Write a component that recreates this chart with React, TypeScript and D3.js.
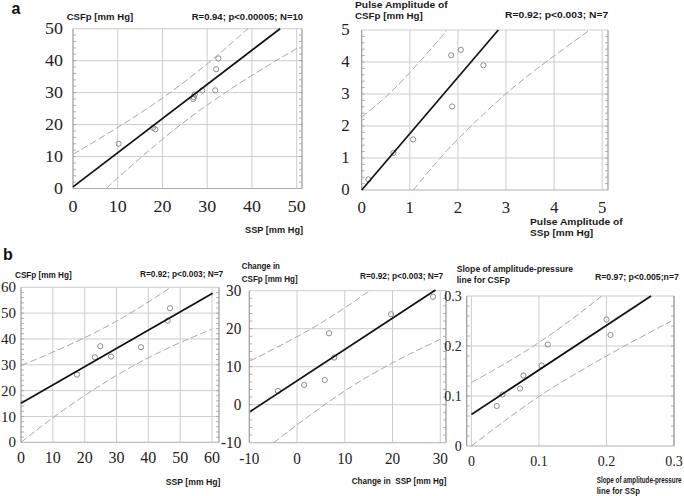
import React from 'react';
import * as d3 from 'd3';

// ---------- data ----------
// Panel a (left): SSP vs CSFp
const a1X = [10.2, 17.9, 18.4, 26.9, 27.0, 27.2, 28.9, 31.8, 32.0, 32.5];
const a1Y = [14.0, 19.0, 18.5, 28.0, 28.6, 29.4, 30.7, 30.7, 37.3, 40.7];
const a1Fit: [number, number][] = [[0, 0.5], [46.3, 50]];
const a1Upper: [number, number][] = [[0, 10.7], [10, 19.1], [20, 28.3], [30, 39.0], [39.1, 50]];
const a1Lower: [number, number][] = [[7.5, 0], [10, 3.3], [20, 15.4], [30, 26.1], [40, 35.4], [50, 43.8]];
const a1XTicks = [0, 10, 20, 30, 40, 50];
const a1YTicks = [0, 10, 20, 30, 40, 50];

// Panel a (right): pulse amplitude
const a2X = [0.14, 0.66, 1.07, 1.86, 1.88, 2.06, 2.53];
const a2Y = [0.33, 1.16, 1.58, 4.21, 2.61, 4.38, 3.90];
const a2Fit: [number, number][] = [[0, 0], [2.84, 5]];
const a2Upper: [number, number][] = [[0, 2.28], [0.5, 2.91], [1, 3.67], [1.5, 4.51], [1.77, 5.0]];
const a2Lower: [number, number][] = [[1.07, 0], [1.5, 0.77], [2, 1.59], [3, 3.01], [4, 4.19], [4.74, 5.0]];
const a2XTicks = [0, 1, 2, 3, 4, 5];
const a2YTicks = [0, 1, 2, 3, 4, 5];

// Panel b (left)
const b1X = [17.6, 23.2, 24.9, 28.3, 37.7, 46.1, 46.8];
const b1Y = [26.2, 32.9, 37.2, 33.2, 36.8, 47.1, 51.9];
const b1Fit: [number, number][] = [[0, 15.1], [60.2, 57.7]];
const b1Upper: [number, number][] = [[0, 29.7], [10, 34.9], [20, 40.5], [30, 46.9], [40, 54.3], [47, 60]];
const b1Lower: [number, number][] = [[0, 0], [10, 9.5], [20, 18.1], [30, 25.9], [40, 32.7], [50, 38.6], [60, 43.8]];
const b1XTicks = [0, 10, 20, 30, 40, 50, 60];
const b1YTicks = [0, 10, 20, 30, 40, 50, 60];

// Panel b (middle)
const b2X = [-4.0, 1.5, 5.8, 6.7, 7.8, 19.7, 28.5];
const b2Y = [3.6, 5.2, 6.5, 18.8, 12.4, 23.8, 28.4];
const b2Fit: [number, number][] = [[-9.8, -1.8], [29, 30.2]];
const b2Upper: [number, number][] = [[-9.8, 11.5], [-5, 14.6], [0, 17.9], [5, 21.5], [10, 25.5], [15.2, 30]];
const b2Lower: [number, number][] = [[-4.9, -10], [0, -5.3], [5, -0.7], [10, 3.65], [15, 7.5], [20, 11.0], [25, 14.2], [30, 17.2]];
const b2XTicks = [-10, 0, 10, 20, 30];
const b2YTicks = [-10, 0, 10, 20, 30];

// Panel b (right)
const b3X = [0.0375, 0.046, 0.072, 0.077, 0.104, 0.113, 0.2, 0.206];
const b3Y = [0.080, 0.103, 0.115, 0.141, 0.161, 0.203, 0.253, 0.222];
const b3Fit: [number, number][] = [[0, 0.063], [0.266, 0.3]];
const b3Upper: [number, number][] = [[0, 0.127], [0.05, 0.165], [0.1, 0.207], [0.15, 0.255], [0.193, 0.3]];
const b3Lower: [number, number][] = [[0, 0], [0.05, 0.051], [0.1, 0.099], [0.15, 0.141], [0.2, 0.18], [0.25, 0.217], [0.296, 0.25]];
const b3XTicks = [0, 0.1, 0.2, 0.3];
const b3YTicks = [0, 0.1, 0.2, 0.3];

// Texts
const a1Texts = ['CSFp [mm Hg]', 'R=0.94; p<0.00005; N=10', 'SSP [mm Hg]'];
const a2Texts = ['Pulse Amplitude of', 'CSFp [mm Hg]', 'R=0.92; p<0.003; N=7', 'Pulse Amplitude of', 'SSp [mm Hg]'];
const b1Texts = ['CSFp [mm Hg]', 'R=0.92; p<0.003; N=7', 'SSP [mm Hg]'];
const b2Texts = ['Change in', 'CSFp [mm Hg]', 'R=0.92; p<0.003; N=7', 'Change in  SSP [mm Hg]'];
const b3Texts = ['Slope of amplitude-pressure', 'line for CSFp', 'R=0.97; p<0.005;n=7', 'Slope of amplitude-pressure', 'line for SSp'];

// ---------- rendering ----------
const GRID = '#cdcdcd';
const FRAME = '#9a9a9a';
const DASH = '#a8a8a8';
const PT = '#8c8c8c';
const SERIF = '"Liberation Serif", "Times New Roman", serif';
const SANS = '"Liberation Sans", Arial, sans-serif';
const LBL_SIZE = 9.5;

let measureCtx: CanvasRenderingContext2D | null = null;
function textWidth(t: string): number {
  if (typeof document !== 'undefined') {
    if (!measureCtx) measureCtx = document.createElement('canvas').getContext('2d');
    if (measureCtx) {
      measureCtx.font = `bold ${LBL_SIZE}px "Liberation Sans", Arial, sans-serif`;
      return measureCtx.measureText(t).width;
    }
  }
  return t.length * LBL_SIZE * 0.58;
}

type PanelCfg = {
  xDom: [number, number]; xRange: [number, number];
  yDom: [number, number]; yRange: [number, number];
  xTicks: number[]; yTicks: number[]; minor: number;
  xs: number[]; ys: number[];
  fit: [number, number][]; upper: [number, number][]; lower: [number, number][];
  font: number; yFont: number; sx: number; yGap: number; xBase: number;
};

function Panel({ c }: { c: PanelCfg }) {
  const x = d3.scaleLinear().domain(c.xDom).range(c.xRange);
  const y = d3.scaleLinear().domain(c.yDom).range(c.yRange);
  const band = d3.line<[number, number]>().x(d => x(d[0])).y(d => y(d[1])).curve(d3.curveNatural);
  const straight = d3.line<[number, number]>().x(d => x(d[0])).y(d => y(d[1]));
  const [L, R] = c.xRange;
  const [B, T] = c.yRange;
  const yMax = c.yTicks[c.yTicks.length - 1];
  const minors: number[] = [];
  const n = Math.round((c.yDom[1] - c.yDom[0]) / c.minor);
  for (let i = 1; i < n; i++) minors.push(c.yDom[0] + i * c.minor);
  const fmt = (v: number) => (Math.abs(v) < 1e-9 ? '0' : String(+v.toFixed(3)));
  return (
    <g>
      {c.xTicks.filter(t => Math.abs(x(t) - L) > 1).map(t => (
        <line key={'gx' + t} x1={x(t)} x2={x(t)} y1={B} y2={y(yMax)} stroke={GRID} strokeWidth={1} />
      ))}
      {c.yTicks.map(t => (
        <line key={'gy' + t} x1={L} x2={R} y1={y(t)} y2={y(t)} stroke={t === c.yDom[0] ? '#b0b0b0' : GRID} strokeWidth={1} />
      ))}
      <line x1={L} x2={L} y1={B} y2={T} stroke={FRAME} strokeWidth={1.2} />
      <line x1={R} x2={R} y1={B} y2={T} stroke={FRAME} strokeWidth={1.2} />
      {minors.map(m => (
        <g key={'m' + m}>
          <line x1={L} x2={L + 3} y1={y(m)} y2={y(m)} stroke={FRAME} strokeWidth={0.8} />
          <line x1={R - 3} x2={R} y1={y(m)} y2={y(m)} stroke={FRAME} strokeWidth={0.8} />
        </g>
      ))}
      <path d={band(c.upper) || ''} fill="none" stroke={DASH} strokeWidth={1} strokeDasharray="7,3" />
      <path d={band(c.lower) || ''} fill="none" stroke={DASH} strokeWidth={1} strokeDasharray="7,3" />
      {c.xs.map((v, i) => (
        <circle key={'p' + i} cx={x(v)} cy={y(c.ys[i])} r={2.6} fill="none" stroke={PT} strokeWidth={1} />
      ))}
      <path d={straight(c.fit) || ''} fill="none" stroke="#111" strokeWidth={1.7} />
      {c.xTicks.map(t => (
        <text key={'tx' + t} transform={`translate(${x(t)},${c.xBase}) scale(${c.sx},1)`} textAnchor="middle"
          fontFamily={SERIF} fontSize={c.font} fill="#222">{fmt(t)}</text>
      ))}
      {c.yTicks.map(t => (
        <text key={'ty' + t} transform={`translate(${L - c.yGap},${y(t)}) scale(${c.sx},1)`} dy="0.34em" textAnchor="end"
          fontFamily={SERIF} fontSize={c.yFont} fill="#222">{fmt(t)}</text>
      ))}
    </g>
  );
}

// label drawn at its natural size, then squeezed horizontally to the width seen in the reference
function Lbl({ x, y, w, t }: { x: number; y: number; w: number; t: string }) {
  const k = w / Math.max(1, textWidth(t));
  return (
    <text transform={`translate(${x},${y}) scale(${k},1)`} fontFamily={SANS} fontWeight="bold" fontSize={LBL_SIZE}
      fill="#1a1a1a" style={{ whiteSpace: 'pre' }}>{t}</text>
  );
}

const panels: PanelCfg[] = [
  { xDom: [0, 51.2], xRange: [73, 302], yDom: [0, 50], yRange: [188.5, 28.7], xTicks: a1XTicks, yTicks: a1YTicks, minor: 2,
    xs: a1X, ys: a1Y, fit: a1Fit, upper: a1Upper, lower: a1Lower, font: 16, yFont: 16, sx: 1.12, yGap: 10, xBase: 212 },
  { xDom: [0, 5.12], xRange: [361.7, 608], yDom: [0, 5], yRange: [190, 30], xTicks: a2XTicks, yTicks: a2YTicks, minor: 0.2,
    xs: a2X, ys: a2Y, fit: a2Fit, upper: a2Upper, lower: a2Lower, font: 16, yFont: 16, sx: 1.05, yGap: 12, xBase: 213 },
  { xDom: [0, 62.2], xRange: [21, 219], yDom: [0, 60], yRange: [442.3, 287.3], xTicks: b1XTicks, yTicks: b1YTicks, minor: 2,
    xs: b1X, ys: b1Y, fit: b1Fit, upper: b1Upper, lower: b1Lower, font: 16, yFont: 15, sx: 1.0, yGap: 5, xBase: 463 },
  { xDom: [-10, 31.2], xRange: [249.3, 446], yDom: [-10, 30], yRange: [442.7, 290.7], xTicks: b2XTicks, yTicks: b2YTicks, minor: 2,
    xs: b2X, ys: b2Y, fit: b2Fit, upper: b2Upper, lower: b2Lower, font: 16, yFont: 16, sx: 0.95, yGap: 8, xBase: 464 },
  { xDom: [-0.007, 0.3], xRange: [466.7, 674], yDom: [0, 0.3], yRange: [446, 296], xTicks: b3XTicks, yTicks: b3YTicks, minor: 0.02,
    xs: b3X, ys: b3Y, fit: b3Fit, upper: b3Upper, lower: b3Lower, font: 14, yFont: 14, sx: 1.0, yGap: 5, xBase: 466 },
];

export default function App() {
  return (
    <svg width={684} height={496} viewBox="0 0 684 496"
      style={{ position: 'absolute', left: 0, top: 0, background: '#fff', display: 'block' }}>
      <rect x={0} y={0} width={684} height={496} fill="#fff" />
      {panels.map((p, i) => <Panel key={i} c={p} />)}

      <text x={11.5} y={13.5} fontFamily={SANS} fontWeight="bold" fontSize={16} fill="#111">a</text>
      <text x={3} y={260} fontFamily={SANS} fontWeight="bold" fontSize={16} fill="#111">b</text>

      <Lbl x={66.7} y={20} w={66.6} t={a1Texts[0]} />
      <Lbl x={191.7} y={20} w={111.6} t={a1Texts[1]} />
      <Lbl x={245} y={233} w={58.3} t={a1Texts[2]} />

      <Lbl x={355} y={8} w={93.3} t={a2Texts[0]} />
      <Lbl x={355} y={19} w={68} t={a2Texts[1]} />
      <Lbl x={505} y={17.5} w={103.3} t={a2Texts[2]} />
      <Lbl x={530} y={224.5} w={93.3} t={a2Texts[3]} />
      <Lbl x={530} y={236} w={63.3} t={a2Texts[4]} />

      <Lbl x={15} y={278.4} w={56.7} t={b1Texts[0]} />
      <Lbl x={140} y={276.7} w={83.3} t={b1Texts[1]} />
      <Lbl x={165.7} y={485} w={55} t={b1Texts[2]} />

      <Lbl x={241.7} y={268.5} w={38.3} t={b2Texts[0]} />
      <Lbl x={241.7} y={281.7} w={56} t={b2Texts[1]} />
      <Lbl x={360} y={278.5} w={83.3} t={b2Texts[2]} />
      <Lbl x={351.7} y={483.5} w={95} t={b2Texts[3]} />

      <Lbl x={456.7} y={271.5} w={116.6} t={b3Texts[0]} />
      <Lbl x={456.7} y={283} w={53.3} t={b3Texts[1]} />
      <Lbl x={595} y={280} w={84} t={b3Texts[2]} />
      <Lbl x={596.7} y={483.3} w={85} t={b3Texts[3]} />
      <Lbl x={596.7} y={494} w={43.3} t={b3Texts[4]} />
    </svg>
  );
}
